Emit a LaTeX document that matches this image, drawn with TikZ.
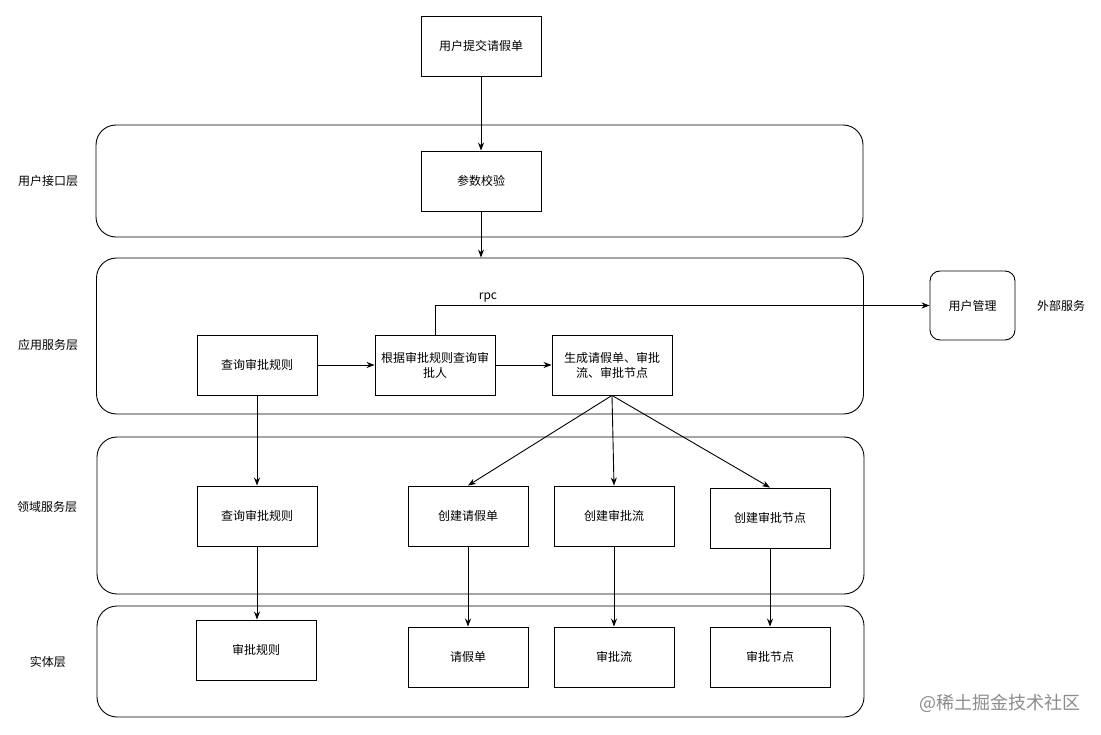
\documentclass[tikz,border=0pt]{standalone}
\usepackage{fontspec}
\setmainfont{Noto Sans CJK SC}
\usetikzlibrary{arrows.meta}

\tikzset{
  layer/.style={draw, rounded corners=20pt, line width=0.9pt, minimum width=767pt, inner sep=0pt},
  box/.style={draw, line width=0.9pt, minimum width=120pt, minimum height=60pt, inner sep=0pt, align=center, font=\fontsize{12}{15}\selectfont},
  lbl/.style={font=\fontsize{12}{15}\selectfont},
  arr/.style={-{Stealth[length=8pt,width=6pt]}, line width=0.9pt}
}

\begin{document}
\begin{tikzpicture}[x=1pt,y=-1pt]
   \useasboundingbox (0,0) rectangle (1101,735);
   % layers
   \node[layer, minimum height=112pt] (uilayer) at (479.5,181) {};
   \node[layer, minimum height=156pt] (applayer) at (480,336) {};
   \node[layer, minimum height=157pt] (domlayer) at (480.5,515.5) {};
   \node[layer, minimum height=111pt] (entlayer) at (480.5,661.5) {};
   \node[lbl] (uilbl) at (48,181) {用户接口层};
   \node[lbl] (applbl) at (48,345) {应用服务层};
   \node[lbl] (domlbl) at (47,507) {领域服务层};
   \node[lbl] (entlbl) at (48,662) {实体层};
   % top
   \node[box] (submit) at (481,46) {用户提交请假单};
   \node[box] (check) at (481,181) {参数校验};
   \draw[arr] (submit) -- (check);
   \draw[arr] (check) -- (check |- applayer.north);
   % application service
   \node[box] (rule1) at (257,365) {查询审批规则};
   \node[box] (approver) at (435,365) {根据审批规则查询审\\批人};
   \node[box] (gen) at (612,365) {生成请假单、审批\\流、审批节点};
   \node[box, rounded corners=10pt, minimum width=85pt, minimum height=69pt] (usermgr) at (972.5,305.5) {用户管理};
   \node[lbl] (extlbl) at (1061,306) {外部服务};
   \draw[arr] (rule1) -- (approver);
   \draw[arr] (approver) -- (gen);
   \draw[arr] (approver.north) |- (usermgr.west);
   \node[lbl] (rpc) at (488,298) {rpc};
   % domain service
   \node[box] (rule2) at (257,516) {查询审批规则};
   \node[box] (newleave) at (468,516) {创建请假单};
   \node[box] (newflow) at (614,516) {创建审批流};
   \node[box] (newnode) at (770,518) {创建审批节点};
   \draw[arr] (rule1) -- (rule2);
   \draw[arr] (gen.south) -- (newleave.north);
   \draw[arr] (gen.south) -- (newflow.north);
   \draw[arr] (gen.south) -- (newnode.north);
   % entities
   \node[box] (rule3) at (256,650) {审批规则};
   \node[box] (leave) at (468,657) {请假单};
   \node[box] (flow) at (614,657) {审批流};
   \node[box] (approvalnode) at (770,657) {审批节点};
   \draw[arr] (rule2.south) -- (rule2.south |- rule3.north);
   \draw[arr] (newleave) -- (leave);
   \draw[arr] (newflow) -- (flow);
   \draw[arr] (newnode) -- (approvalnode);
   % watermark
   \node[font=\fontsize{18}{20}\selectfont, text=black!45] (mark) at (1000,703) {@稀土掘金技术社区};
\end{tikzpicture}
\end{document}
